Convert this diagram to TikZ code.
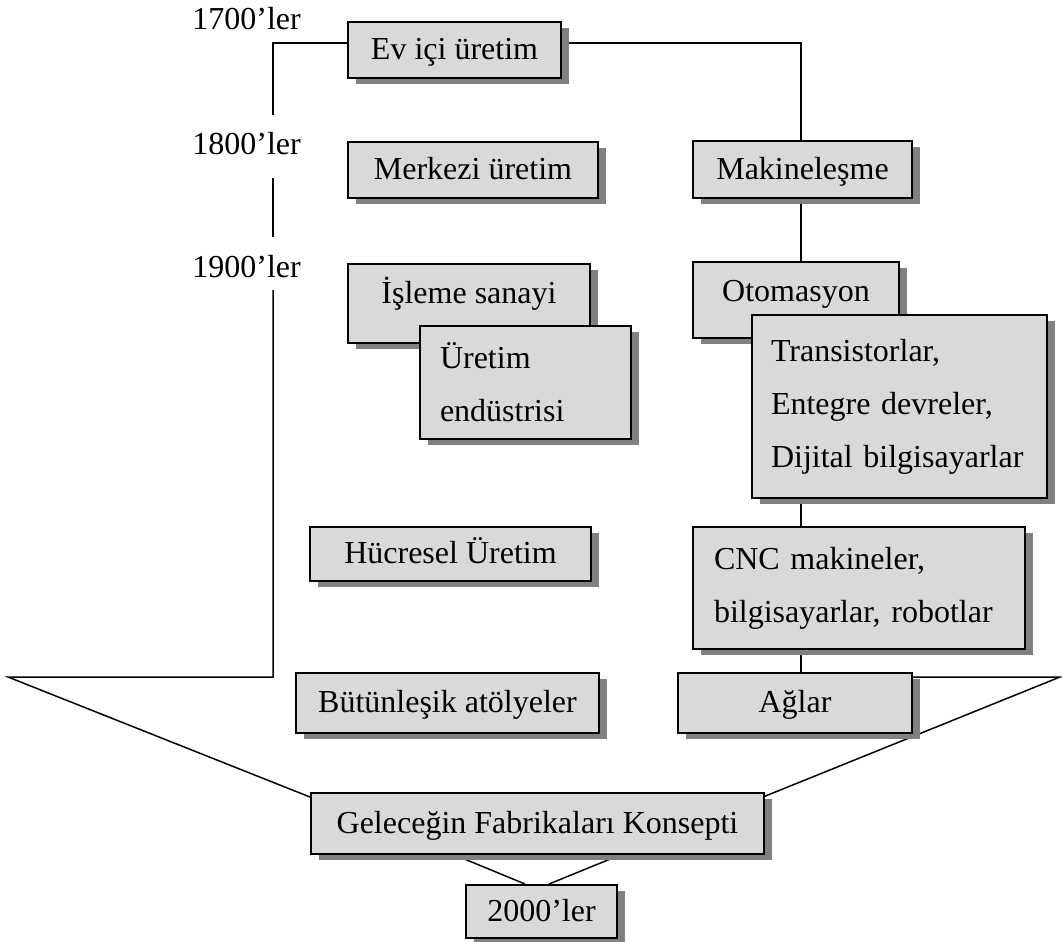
\documentclass[tikz,border=0pt]{standalone}
\usepackage{fontspec}
\setmainfont{Liberation Serif}
\usetikzlibrary{shadows}
\definecolor{kutugri}{HTML}{D9D9D9}
\definecolor{golge}{HTML}{808080}
\begin{document}
\begin{tikzpicture}[x=0.5pt, y=-0.5pt,
		kutu/.style={draw, line width=1pt, fill=kutugri, anchor=north west,
			inner xsep=0pt, inner ysep=0pt,
			font=\fontsize{16pt}{26.5pt}\selectfont,
			text height=11.5pt, text depth=1.6pt,
			drop shadow={shadow xshift=3.75pt, shadow yshift=-2.75pt, fill=golge, opacity=1}},
		cokkutu/.style={kutu, align=left, inner xsep=10pt, text height=, text depth=},
		yil/.style={anchor=base west, inner sep=0pt, font=\fontsize{16pt}{18pt}\selectfont},
		hat/.style={line width=0.75pt}]

		\useasboundingbox (0,0) rectangle (1062,942);

		% years
		\node[yil] (y1700) at (192,30) {1700’ler};
		\node[yil] (y1800) at (192,155) {1800’ler};
		\node[yil] (y1900) at (192,277) {1900’ler};

		% spine and funnel points
		\coordinate (s1) at (273,43);
		\coordinate (s2) at (273,115);
		\coordinate (s3) at (273,178);
		\coordinate (s4) at (273,237);
		\coordinate (s5) at (273,290);
		\coordinate (s6) at (273,677);
		\coordinate (sol) at (8,677);
		\coordinate (sag) at (1060,677);
		\coordinate (dik) at (801,43);

		% lines (behind the boxes)
		\draw[hat] (s2) -- (s1) -- (347,43);
		\draw[hat] (s3) -- (s4);
		\draw[hat] (s5) -- (s6) -- (sol) -- (310,797);
		\draw[hat] (560,43) -- (dik) -- (801,140);
		\draw[hat] (801,197) -- (801,261);
		\draw[hat] (801,497) -- (801,526);
		\draw[hat] (801,648) -- (801,672);
		\draw[hat] (763,797) -- (sag) -- (911,677);
		\draw[hat] (450,853) -- (525,884);
		\draw[hat] (625,853) -- (549,884);

		% left column
		\node[kutu, minimum width=106.5pt, minimum height=28pt] (ev) at (347,21) {Ev içi üretim};
		\node[kutu, minimum width=125pt, minimum height=28pt] (merkezi) at (347,141) {Merkezi üretim};
		\node[kutu, minimum width=121pt, text height=19.5pt, text depth=20pt] (isleme) at (347,263) {İşleme sanayi};
		\node[cokkutu, text width=85.5pt, minimum height=56.5pt] (uretim) at (419,325) {Üretim\\endüstrisi};
		\node[kutu, minimum width=140.5pt, minimum height=27pt] (hucre) at (309,526) {Hücresel Üretim};
		\node[kutu, minimum width=151.5pt, minimum height=30pt] (butun) at (295,672) {Bütünleşik atölyeler};

		% right column
		\node[kutu, minimum width=109.5pt, minimum height=28.5pt] (makine) at (692,140) {Makineleşme};
		\node[kutu, minimum width=103pt, text height=19.5pt, text depth=18.5pt] (otomasyon) at (692,261) {Otomasyon};
		\node[cokkutu, inner xsep=9.5pt, text width=128.5pt, minimum height=91.5pt] (transistor) at (751,314) {Transistorlar,\\Entegre devreler,\\Dijital bilgisayarlar};
		\node[cokkutu, inner xsep=10.5pt, text width=145pt, minimum height=61pt] (cnc) at (692,526) {CNC makineler,\\bilgisayarlar, robotlar};
		\node[kutu, minimum width=117pt, minimum height=30pt] (aglar) at (677,672) {Ağlar};

		% bottom
		\node[kutu, minimum width=226.5pt, minimum height=30.5pt] (gelecek) at (310,792) {Geleceğin Fabrikaları Konsepti};
		\node[kutu, minimum width=75.5pt, minimum height=26.5pt] (y2000) at (465,884) {2000’ler};

	\end{tikzpicture}
\end{document}
